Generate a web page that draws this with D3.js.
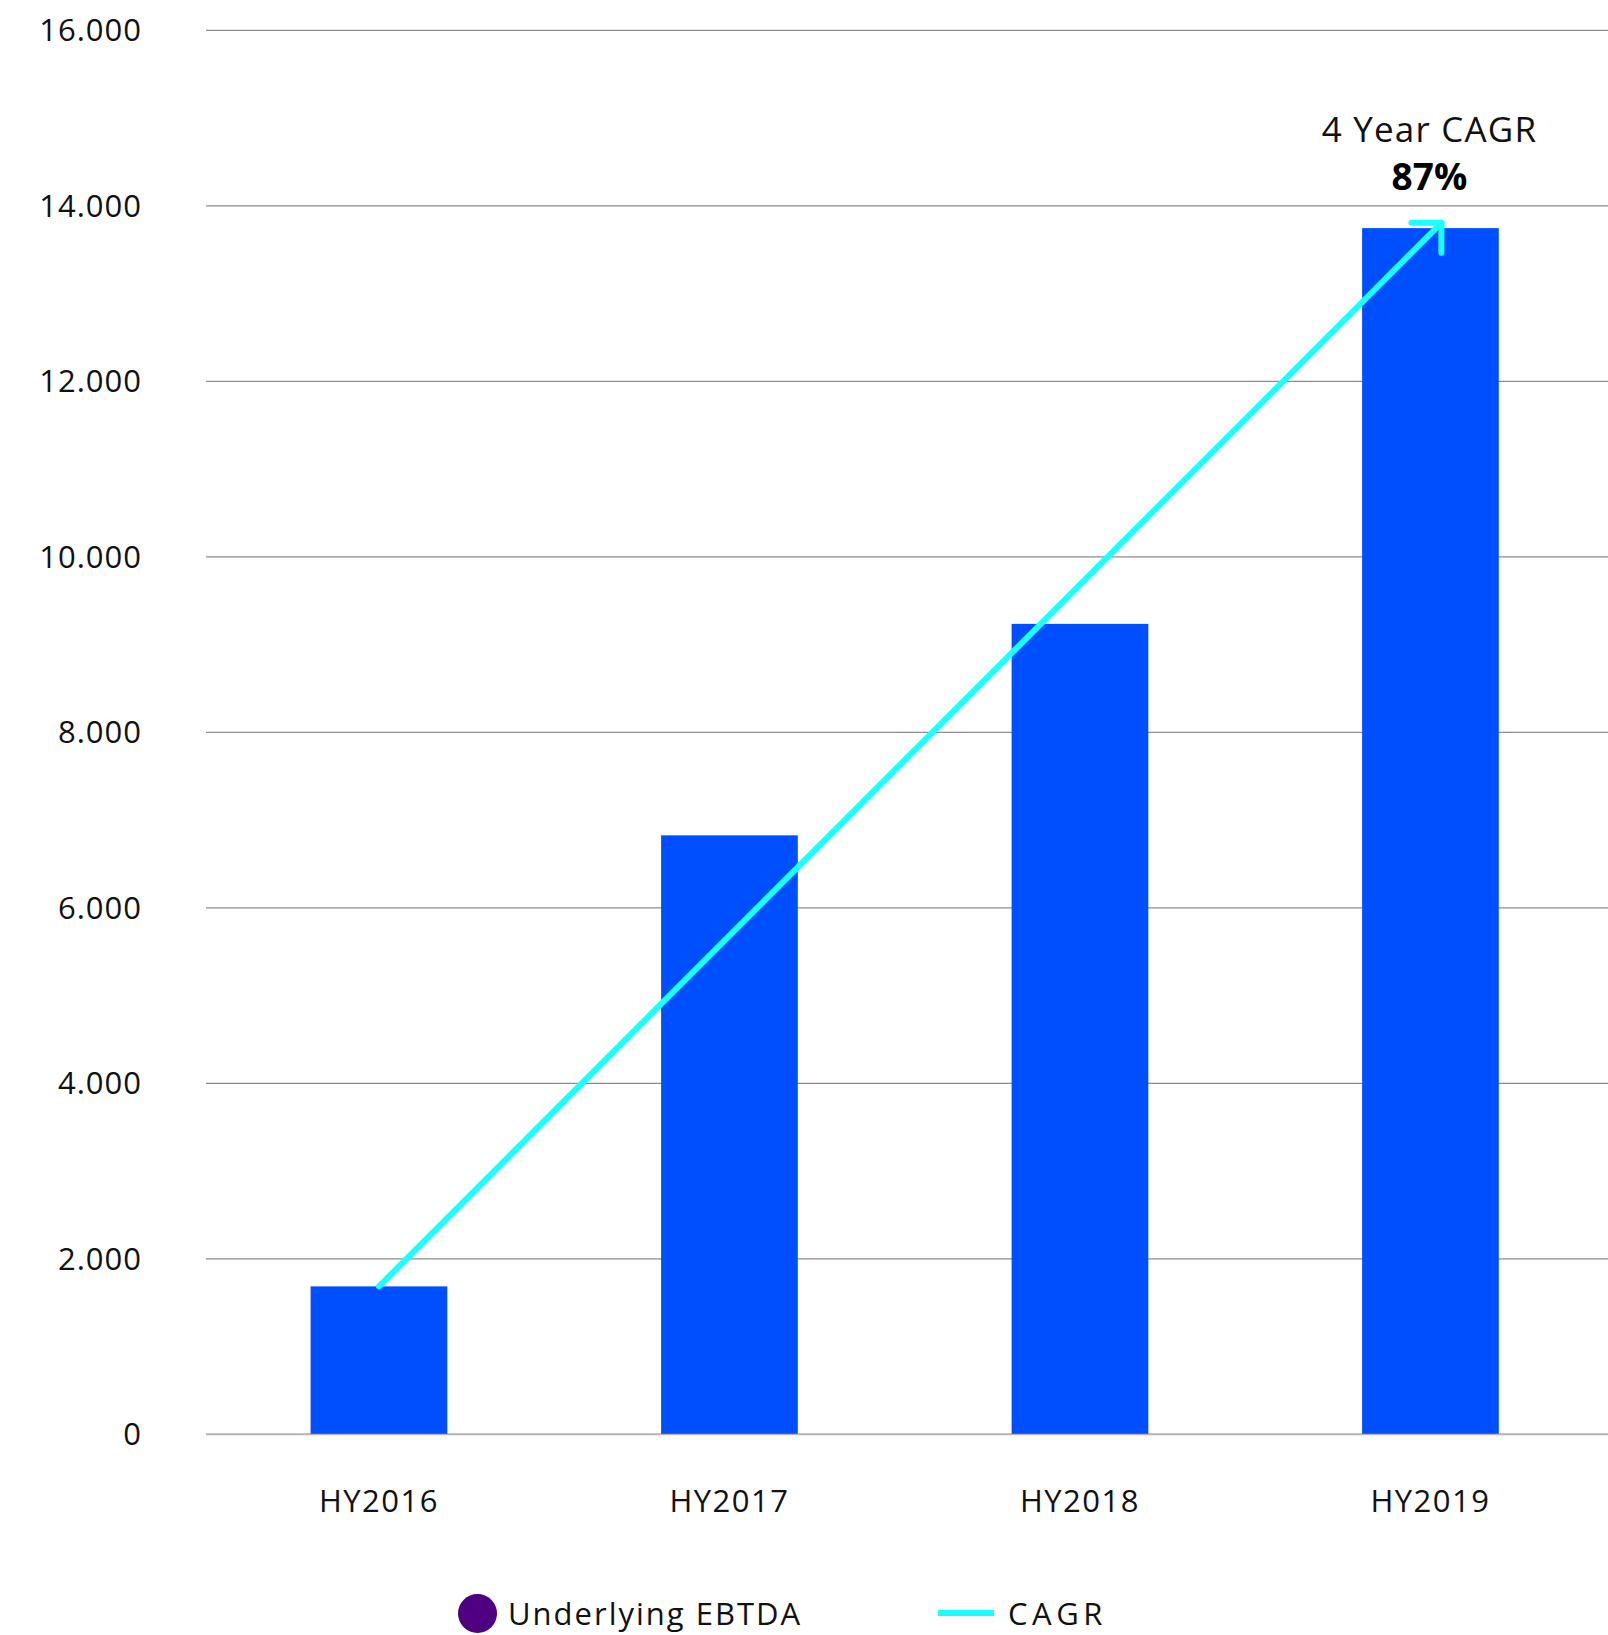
<!DOCTYPE html>
<html>
<head>
<meta charset="utf-8">
<script src="https://cdn.jsdelivr.net/npm/d3@7"></script>
<style>
  html, body { margin: 0; padding: 0; background: #fff; }
  svg { display: block; font-family: "Open Sans", "Noto Sans", sans-serif; }
  svg text { font-family: "Open Sans", "Noto Sans", sans-serif; }
</style>
</head>
<body>
<svg id="chart" width="1608" height="1635"></svg>
<script>
const categories = ["HY2016", "HY2017", "HY2018", "HY2019"];
const ebitdaValues = [1680, 6820, 9230, 13740];
const yTicks = [0, 2000, 4000, 6000, 8000, 10000, 12000, 14000, 16000];
const yTickLabels = ["0", "2.000", "4.000", "6.000", "8.000", "10.000", "12.000", "14.000", "16.000"];
const cagrStart = { cat: "HY2016", value: 1680 };
const cagrEnd = { cat: "HY2019", value: 13800 };
const cagrTitle = "4 Year CAGR";
const cagrValue = "87%";
const legendItems = ["Underlying EBTDA", "CAGR"];

const W = 1608, H = 1635;
const gridLeft = 206;
const margin = { left: 203.7, right: 2.3, top: 29.8, bottom: H - 1433.8 };
const svg = d3.select("#chart");
const FONT = '"Open Sans", "Noto Sans", sans-serif';

const x = d3.scaleBand().domain(categories).range([margin.left, W - margin.right]).paddingInner(0.61).paddingOuter(0.305);
const y = d3.scaleLinear().domain([0, 16000]).range([H - margin.bottom, margin.top]);

// gridlines
const yAxis = d3.axisLeft(y).tickValues(yTicks).tickSize(-(W - gridLeft))
  .tickFormat((d, i) => yTickLabels[i]).tickPadding(64);
const gy = svg.append("g").attr("transform", `translate(${gridLeft},0)`).call(yAxis)
  .attr("font-family", FONT);
gy.select(".domain").remove();
gy.selectAll(".tick line").attr("stroke", d => d === 0 ? "#b4b4b4" : "#8c8c8c").attr("stroke-width", d => d === 0 ? 2 : 1.3);
gy.selectAll(".tick text").attr("fill", "#111").style("font-size", "31px").style("letter-spacing", "1px").attr("dy", "0.36em");

// bars
svg.append("g").selectAll("rect").data(categories).join("rect")
  .attr("x", d => x(d))
  .attr("width", x.bandwidth())
  .attr("y", (d, i) => y(ebitdaValues[i]))
  .attr("height", (d, i) => y(0) - y(ebitdaValues[i]))
  .attr("fill", "#004FFF");

// x axis labels
const xAxis = d3.axisBottom(x).tickSize(0).tickPadding(0);
const gx = svg.append("g").attr("transform", `translate(0,${y(0)})`).call(xAxis)
  .attr("font-family", FONT);
gx.select(".domain").remove();
gx.selectAll(".tick text").attr("fill", "#111").style("font-size", "31px").style("letter-spacing", "1.5px")
  .attr("y", 78).attr("dy", 0);

// CAGR arrow
const x1 = x(cagrStart.cat) + x.bandwidth() / 2;
const y1 = y(cagrStart.value);
const x2 = x(cagrEnd.cat) + x.bandwidth() * 0.58;
const y2 = y(cagrEnd.value);
const cyan = "#1AFFFF";
svg.append("line").attr("x1", x1).attr("y1", y1).attr("x2", x2).attr("y2", y2)
  .attr("stroke", cyan).attr("stroke-width", 6).attr("stroke-linecap", "round");
const head = 30;
svg.append("path")
  .attr("d", `M${x2 - head},${y2} L${x2},${y2} L${x2},${y2 + head}`)
  .attr("fill", "none").attr("stroke", cyan).attr("stroke-width", 6)
  .attr("stroke-linecap", "round").attr("stroke-linejoin", "round");

// annotation text
const annX = x(cagrEnd.cat) + x.bandwidth() / 2 - 1;
svg.append("text").attr("x", annX).attr("y", 141.5).attr("text-anchor", "middle")
  .attr("fill", "#111").style("font-size", "35px").style("letter-spacing", "1.2px").text(cagrTitle);
svg.append("text").attr("x", annX).attr("y", 190).attr("text-anchor", "middle")
  .attr("fill", "#000").style("font-size", "37px").style("font-weight", 700).text(cagrValue);

// legend
const lg = svg.append("g");
lg.append("circle").attr("cx", 477.5).attr("cy", 1613.5).attr("r", 19.5).attr("fill", "#4E0080");
lg.append("text").attr("x", 508).attr("y", 1625).attr("fill", "#111").style("font-size", "31px").style("letter-spacing", "2px").text(legendItems[0]);
lg.append("line").attr("x1", 938).attr("x2", 994).attr("y1", 1613).attr("y2", 1613).attr("stroke", cyan).attr("stroke-width", 6);
lg.append("text").attr("x", 1008).attr("y", 1625).attr("fill", "#111").style("font-size", "31px").style("letter-spacing", "4.5px").text(legendItems[1]);
</script>
</body>
</html>
